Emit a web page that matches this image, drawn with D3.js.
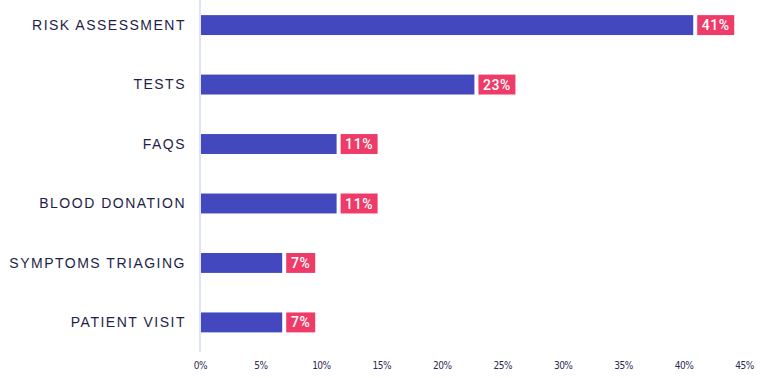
<!DOCTYPE html>
<html><head><meta charset="utf-8">
<script src="https://cdn.jsdelivr.net/npm/d3@7"></script>
<style>body{margin:0;background:#fff}svg{display:block}</style>
</head><body>
<svg id="c" width="760" height="378"></svg>
<script>
const categories = ["RISK ASSESSMENT","TESTS","FAQS","BLOOD DONATION","SYMPTOMS TRIAGING","PATIENT VISIT"];
const values = [40.8, 22.7, 11.3, 11.3, 6.8, 6.8];
const valueLabels = ["41%","23%","11%","11%","7%","7%"];
const tickValues = [0,5,10,15,20,25,30,35,40,45];

const svg = d3.select("#c");
const x = d3.scaleLinear().domain([0,45]).range([200,744]);
const y = d3.scaleBand().domain(categories).range([-4.5,352]).paddingInner(0.665).paddingOuter(0.33);

svg.append("line").attr("x1",200).attr("x2",200).attr("y1",0).attr("y2",352)
  .attr("stroke","#dfe4f5").attr("stroke-width",2);

const ax = d3.axisBottom(x).tickValues(tickValues).tickFormat(d=>d+"%").tickSize(0);
const g = svg.append("g").attr("transform","translate(0,359)").call(ax);
g.select(".domain").remove();
g.selectAll("text").attr("font-family","DejaVu Sans Condensed, DejaVu Sans, sans-serif")
  .attr("font-size",10).attr("fill","#2b2b55").attr("letter-spacing","-0.5");

svg.selectAll(".cat").data(categories).join("text")
  .attr("x",186).attr("y",d=>y(d)+y.bandwidth()/2).attr("dy","0.35em")
  .attr("text-anchor","end").attr("font-family","Liberation Sans, Arial, sans-serif")
  .attr("font-size",14).attr("letter-spacing","1.5").attr("fill","#1e1e48").text(d=>d);

svg.selectAll(".bar").data(values).join("rect")
  .attr("x",x(0)+1).attr("y",(d,i)=>y(categories[i]))
  .attr("width",d=>x(d)-x(0)-1).attr("height",y.bandwidth()).attr("fill","#4348bf");

const lg = svg.selectAll(".lab").data(values).join("g")
  .attr("transform",(d,i)=>`translate(${x(d)+4},${y(categories[i])})`);
lg.append("rect").attr("height",y.bandwidth())
  .attr("width",(d,i)=>valueLabels[i].length>2?37:29).attr("fill","#ef3b68");
lg.append("text").attr("x",(d,i)=>(valueLabels[i].length>2?37:29)/2).attr("y",y.bandwidth()/2).attr("dy","0.36em")
  .attr("text-anchor","middle").attr("font-family","Roboto, sans-serif").attr("font-weight","500")
  .attr("font-size",14).attr("letter-spacing","0.6").attr("fill","#fff").text((d,i)=>valueLabels[i]);
</script>
</body></html>
